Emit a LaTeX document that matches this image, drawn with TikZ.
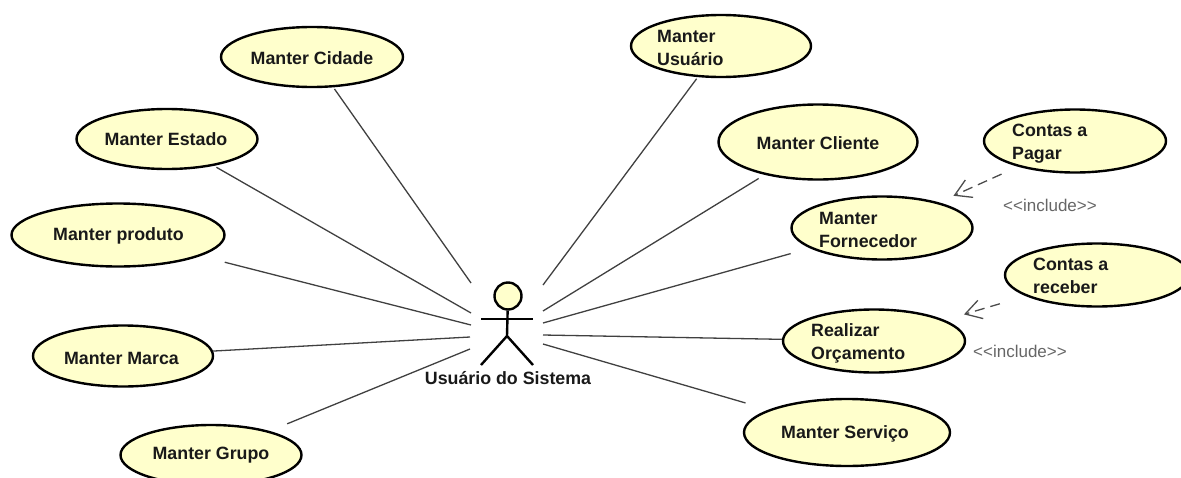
\documentclass[tikz,border=0pt]{standalone}
\usepackage{fontspec}
\setmainfont{Liberation Sans}
\usetikzlibrary{arrows.meta,shapes.geometric}
\definecolor{ucfill}{HTML}{FFFFCC}
\tikzset{
  uc/.style={ellipse,draw=black,line width=2.4pt,fill=ucfill,inner sep=0pt},
  txt/.style={font=\fontsize{17.8}{23}\selectfont\bfseries,align=left,inner sep=0pt,text=black!90},
  assoc/.style={draw=black!75,line width=1.3pt},
  incl/.style={draw=black!70,line width=1.3pt,dash pattern=on 10pt off 6pt,-{Straight Barb[length=16pt,width=19pt,line width=1.3pt]}},
  stereo/.style={font=\fontsize{17}{18}\selectfont,text=black!60,inner sep=0pt},
  limb/.style={draw=black,line width=2.4pt}
}
\newcommand{\uca}[6]{\node[uc,minimum width=#3pt,minimum height=#4pt] (#5) at (#1,#2) {};}
\begin{document}
\begin{tikzpicture}[x=1pt,y=-1pt]
\useasboundingbox (0,0) rectangle (1181,477);
\begin{scope}
\clip (0,0) rectangle (1181,477);
% coordinates at the actor side
\coordinate (a1) at (471,283);
\coordinate (a2) at (471,313);
\coordinate (a3) at (471,325);
\coordinate (a4) at (470,337);
\coordinate (a5) at (470,349);
\coordinate (b1) at (543,285);
\coordinate (b2) at (543,311);
\coordinate (b3) at (543,323);
\coordinate (b4) at (543,335);
\coordinate (b5) at (543,344);
% use cases
\uca{312}{57}{182}{60}{cidade}{}
\uca{167}{139}{181}{60}{estado}{}
\uca{118}{235}{213}{63}{produto}{}
\uca{123}{356}{180}{61}{marca}{}
\uca{211}{455}{181}{60}{grupo}{}
\uca{721}{46}{180}{62}{usuario}{}
\uca{818}{142}{199}{75}{cliente}{}
\uca{882}{228}{181}{63}{fornecedor}{}
\uca{1075}{141}{182}{63}{pagar}{}
\uca{1097}{275}{184}{63}{receber}{}
\uca{874}{341}{182}{63}{orcamento}{}
\uca{847}{432.5}{206}{67}{servico}{}
% association connectors
\draw[assoc,shorten >=2pt] (a1) -- (cidade);
\draw[assoc,shorten >=3pt] (a2) -- (estado);
\draw[assoc,shorten >=25pt] (a3) -- (produto);
\draw[assoc] (a4) -- (marca);
\draw[assoc,shorten >=19pt] (a5) -- (grupo);
\draw[assoc,shorten >=2pt] (b1) -- (usuario);
\draw[assoc,shorten >=7pt] (b2) -- (cliente);
\draw[assoc,shorten >=20pt] (b3) -- (fornecedor);
\draw[assoc] (b4) -- (orcamento);
\draw[assoc,shorten >=24pt] (b5) -- (servico);
% include connectors
\draw[incl,shorten <=18pt,shorten >=16pt] (pagar) -- (fornecedor);
\draw[incl,shorten <=27pt,shorten >=20pt] (receber) -- (orcamento);
% texts
\node[txt] (tcidade) at (312,58) {Manter Cidade};
\node[txt] (testado) at (166,139) {Manter Estado};
\node[txt] (tproduto) at (118.5,236) {Manter produto};
\node[txt] (tmarca) at (121.5,358) {Manter Marca};
\node[txt] (tgrupo) at (211,455.5) {Manter Grupo};
\node[txt,anchor=west] (tusuario) at (657,47.5) {Manter\\Usuário};
\node[txt] (tcliente) at (818,143) {Manter Cliente};
\node[txt,anchor=west] (tfornecedor) at (819,230) {Manter\\Fornecedor};
\node[txt,anchor=west] (tpagar) at (1012,143.5) {Contas a\\Pagar};
\node[txt,anchor=west] (treceber) at (1033,276) {Contas a\\receber};
\node[txt,anchor=west] (torcamento) at (811,343.5) {Realizar\\Orçamento};
\node[txt] (tservico) at (845,434) {Manter Serviço};
\node[stereo] (s1) at (1050,205) {<{}<include>{}>};
\node[stereo] (s2) at (1020,351) {<{}<include>{}>};
% actor
\node[circle,draw=black,line width=2.4pt,fill=ucfill,minimum size=27pt,inner sep=0pt] (head) at (508,296) {};
\coordinate (armL) at (481,319);
\coordinate (armR) at (533,319);
\coordinate (crotch) at (507,336);
\coordinate (legL) at (481,365);
\coordinate (legR) at (533,365);
\draw[limb] (head) -- (crotch);
\draw[limb] (armL) -- (armR);
\draw[limb] (legL) -- (crotch) -- (legR);
\node[txt] (tactor) at (508,378) {Usuário do Sistema};
\end{scope}
\end{tikzpicture}
\end{document}
